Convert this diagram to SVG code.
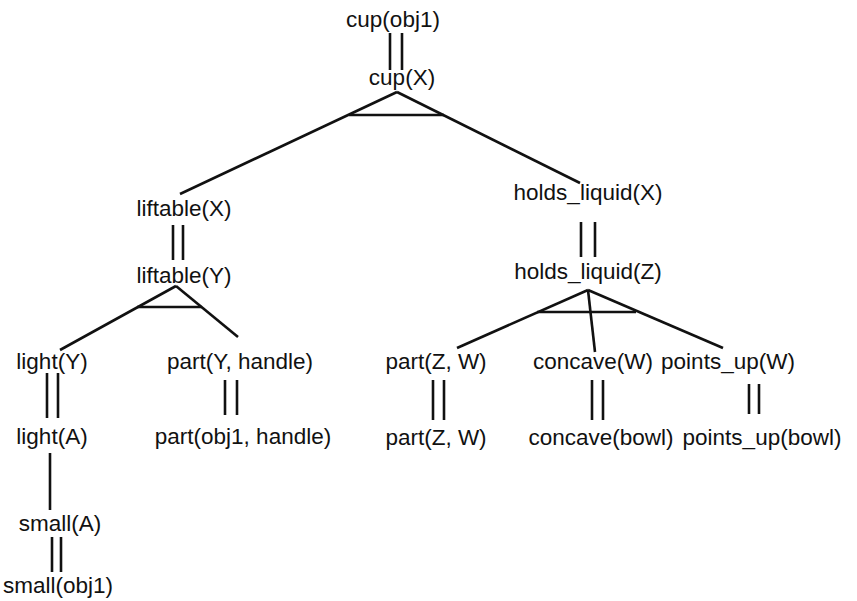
<svg xmlns="http://www.w3.org/2000/svg" width="857" height="601" viewBox="0 0 857 601">
<style>
text{font-family:"Liberation Sans",Arial,Helvetica,sans-serif;font-size:22.5px;fill:#111;text-anchor:middle}
line,polyline{stroke:#111;stroke-width:2.6;fill:none;stroke-linecap:butt}
</style>
<rect width="857" height="601" fill="#fff"/>
<g id="connectors">
<line x1="390" y1="33" x2="390" y2="70"/><line x1="402" y1="33" x2="402" y2="70"/>
<line x1="397" y1="92" x2="180" y2="194"/><line x1="397" y1="92" x2="580" y2="183"/>
<line x1="349" y1="115" x2="444" y2="115"/>
<line x1="173" y1="225" x2="173" y2="260"/><line x1="183" y1="225" x2="183" y2="260"/>
<line x1="176" y1="286" x2="60" y2="350"/><line x1="176" y1="286" x2="238" y2="337"/>
<line x1="137" y1="307" x2="202" y2="307"/>
<line x1="47" y1="373" x2="47" y2="418"/><line x1="58" y1="373" x2="58" y2="418"/>
<line x1="225" y1="380" x2="225" y2="415"/><line x1="237" y1="380" x2="237" y2="415"/>
<line x1="50" y1="453" x2="50" y2="510"/>
<line x1="52" y1="537" x2="52" y2="572"/><line x1="61" y1="537" x2="61" y2="572"/>
<line x1="581" y1="222" x2="581" y2="257"/><line x1="595" y1="222" x2="595" y2="257"/>
<line x1="588" y1="290" x2="457" y2="348"/><line x1="588" y1="290" x2="595" y2="352"/><line x1="588" y1="290" x2="723" y2="348"/>
<line x1="537" y1="312" x2="636" y2="312"/>
<line x1="433" y1="380" x2="433" y2="420"/><line x1="444" y1="380" x2="444" y2="420"/>
<line x1="592" y1="380" x2="592" y2="420"/><line x1="603" y1="380" x2="603" y2="420"/>
<line x1="749" y1="384" x2="749" y2="414"/><line x1="759" y1="384" x2="759" y2="414"/>
</g>
<g id="n-cup-obj1"><text x="393" y="27">cup(obj1)</text></g>
<g id="n-cup-X"><text x="402" y="85">cup(X)</text></g>
<g id="n-liftable-X"><text x="184" y="216">liftable(X)</text></g>
<g id="n-liftable-Y"><text x="184" y="283">liftable(Y)</text></g>
<g id="n-holds-X"><text x="588" y="200">holds_liquid(X)</text></g>
<g id="n-holds-Z"><text x="588" y="279">holds_liquid(Z)</text></g>
<g id="n-light-Y"><text x="52" y="369">light(Y)</text></g>
<g id="n-part-Y-handle"><text x="240" y="369">part(Y, handle)</text></g>
<g id="n-light-A"><text x="52" y="444">light(A)</text></g>
<g id="n-part-obj1-handle"><text x="243" y="444">part(obj1, handle)</text></g>
<g id="n-small-A"><text x="60" y="531">small(A)</text></g>
<g id="n-small-obj1"><text x="58" y="593">small(obj1)</text></g>
<g id="n-part-Z-W"><text x="436" y="369">part(Z, W)</text></g>
<g id="n-concave-W"><text x="593" y="369">concave(W)</text></g>
<g id="n-points-up-W"><text x="728" y="369">points_up(W)</text></g>
<g id="n-part-Z-W-2"><text x="436" y="445">part(Z, W)</text></g>
<g id="n-concave-bowl"><text x="601" y="445">concave(bowl)</text></g>
<g id="n-points-up-bowl"><text x="762" y="445">points_up(bowl)</text></g>
</svg>
